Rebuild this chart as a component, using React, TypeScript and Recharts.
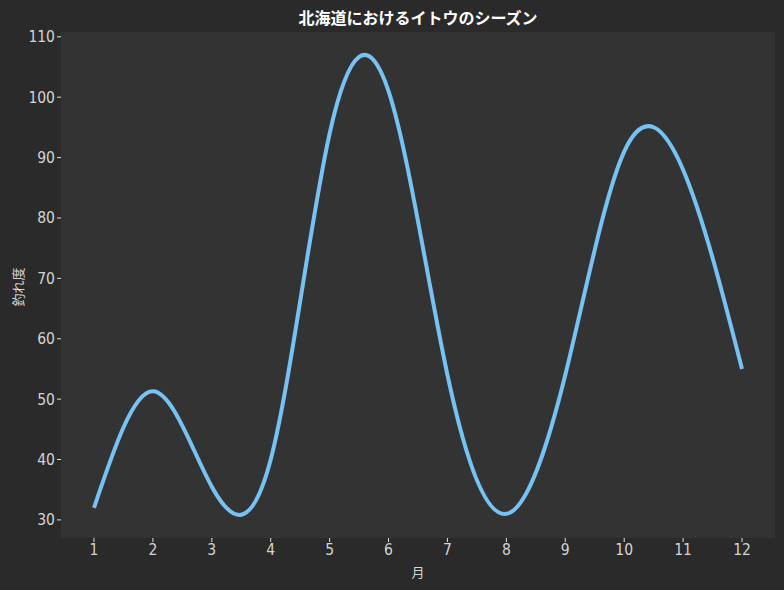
import { LineChart, Line, XAxis, YAxis, CartesianGrid } from "recharts"

const MONTHS = [1, 2, 3, 4, 5, 6, 7, 8, 9, 10, 11, 12]
const SCORES = [32, 51.3, 35.5, 40, 94, 101, 54, 31, 54, 91, 88, 55]
const Y_TICKS = [30, 40, 50, 60, 70, 80, 90, 100, 110]

const FONT = "'Noto Sans CJK JP', 'Noto Sans', sans-serif"
const TICK_FONT = "'Liberation Sans Narrow', 'DejaVu Sans Condensed', sans-serif"
const TICK = { fill: "#d4d4d4", fontSize: 15.5, fontFamily: TICK_FONT }

const data = MONTHS.map((m, i) => ({ month: m, score: SCORES[i] }))

export default function App() {
  return (
    <div
      style={{
        position: "absolute",
        left: 0,
        top: 0,
        width: 784,
        height: 590,
        background: "#2a2a2a",
        fontFamily: FONT,
      }}
    >
      <LineChart
        width={784}
        height={590}
        data={data}
        margin={{ top: 32, right: 9, bottom: 0, left: 0 }}
      >
        <CartesianGrid fill="#333333" stroke="none" horizontal={false} vertical={false} />
        <XAxis
          type="number"
          dataKey="month"
          domain={[0.44, 12.56]}
          ticks={MONTHS}
          height={52}
          tick={TICK}
          tickLine={{ stroke: "#e0e0e0" }}
          tickSize={4}
          axisLine={false}
        />
        <YAxis
          type="number"
          domain={[27.0, 110.8]}
          ticks={Y_TICKS}
          width={61}
          tick={TICK}
          tickLine={{ stroke: "#e0e0e0" }}
          tickSize={4}
          axisLine={false}
          allowDataOverflow
        />
        <Line
          type="natural"
          dataKey="score"
          stroke="#76c3f3"
          strokeWidth={4}
          dot={false}
          isAnimationActive={false}
        />
      </LineChart>
      <div
        style={{
          position: "absolute",
          left: 61,
          width: 714,
          top: 5,
          textAlign: "center",
          color: "#ffffff",
          fontWeight: 700,
          fontSize: 16,
        }}
      >
        北海道におけるイトウのシーズン
      </div>
      <div
        style={{
          position: "absolute",
          left: 61,
          width: 714,
          top: 562,
          textAlign: "center",
          color: "#d4d4d4",
          fontSize: 13,
        }}
      >
        月
      </div>
      <div
        style={{
          position: "absolute",
          left: 17,
          top: 287,
          color: "#d4d4d4",
          fontSize: 13,
          whiteSpace: "nowrap",
          transform: "translate(-50%, -50%) rotate(-90deg)",
        }}
      >
        釣れ度
      </div>
    </div>
  )
}
